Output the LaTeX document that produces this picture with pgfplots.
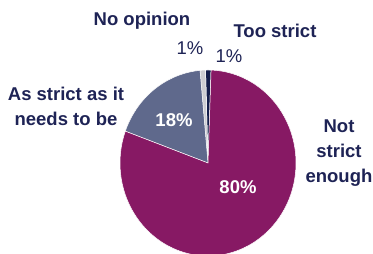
\documentclass[border=0pt]{standalone}
\usepackage{pgfplots}
\pgfplotsset{compat=1.18}
\usepackage{fontspec}
\setmainfont{Liberation Sans}
\definecolor{navytxt}{RGB}{30,35,85}
\definecolor{slmag}{RGB}{135,25,100}
\definecolor{slblue}{RGB}{95,105,140}
\definecolor{slgrey}{RGB}{205,205,210}
\definecolor{slnavy}{RGB}{20,30,75}
\def\cx{208}\def\cy{91}\def\rx{88}\def\ry{93}
\newcommand\slice[3]{\addplot[fill=#3, draw=white, line width=0.5pt, domain=#1:#2, samples=80, smooth=false] ({\cx+\rx*cos(x)}, {\cy+\ry*sin(x)}) -- (axis cs:\cx,\cy) -- cycle;}
\begin{document}
\begin{tikzpicture}
\begin{axis}[width=373pt, height=254pt, scale only axis, axis lines=none,
  xmin=0, xmax=373, ymin=0, ymax=254, clip=true]
% shares: Too strict 1%, No opinion 1%, As strict as it needs to be 18%, Not strict enough 80%
\slice{88}{91.6}{slnavy}
\slice{91.6}{95.2}{slgrey}
\slice{95.2}{160}{slblue}
\slice{160}{448}{slmag}
\end{axis}
\begin{scope}[x=1pt,y=1pt,font=\fontsize{18.5}{25}\selectfont\bfseries, text=navytxt]
\node[align=center] at (142,233) {No opinion};
\node[align=center] at (275,223) {Too strict};
\node[align=center] at (66,148) {As strict as it\\needs to be};
\node[align=center] at (339,101) {Not\\strict\\enough};
\node[font=\fontsize{18.5}{25}\selectfont] at (190,206) {1\%};
\node[font=\fontsize{18.5}{25}\selectfont] at (229,198) {1\%};
\node[text=white] at (174,134) {18\%};
\node[text=white] at (238,67) {80\%};
\end{scope}
\pgfresetboundingbox
\path (0,0) rectangle (373pt,254pt);
\end{tikzpicture}
\end{document}
